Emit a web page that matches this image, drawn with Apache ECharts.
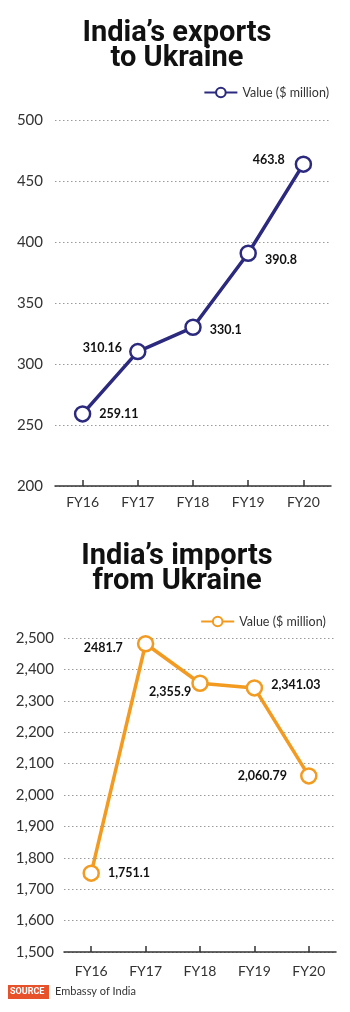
<!DOCTYPE html>
<html>
<head>
<meta charset="utf-8">
<script src="https://cdn.jsdelivr.net/npm/echarts@6/dist/echarts.min.js"></script>
<style>
html,body{margin:0;padding:0;background:#fff;}
#c{width:350px;height:1012px;}
</style>
</head>
<body>
<div id="c"></div>
<script>
const categories = ['FY16', 'FY17', 'FY18', 'FY19', 'FY20'];
const exportsValues = [259.11, 310.16, 330.1, 390.8, 463.8];
const exportsLabels = ['259.11', '310.16', '330.1', '390.8', '463.8'];
const importsValues = [1751.1, 2481.7, 2355.9, 2341.03, 2060.79];
const importsLabels = ['1,751.1', '2481.7', '2,355.9', '2,341.03', '2,060.79'];
const seriesName = 'Value ($ million)';

const NAVY = '#2c2a7e';
const ORANGE = '#f39b20';
const FONT = 'Lato';

const labelPos1 = [
  {position: 'right', distance: 8, offset: [0, 0]},
  {position: 'left', distance: 7, offset: [0, -4]},
  {position: 'right', distance: 8, offset: [0, 3]},
  {position: 'right', distance: 8, offset: [0, 7]},
  {position: 'left', distance: 10, offset: [0, -4]}
];
const labelPos2 = [
  {position: 'right', distance: 8, offset: [0, 0]},
  {position: 'left', distance: 14, offset: [0, 4]},
  {position: 'left', distance: 0, offset: [0, 9]},
  {position: 'right', distance: 8, offset: [0, -3]},
  {position: 'left', distance: 13, offset: [0, 0]}
];

function mkData(vals, labels, pos) {
  return vals.map((v, i) => ({
    value: v,
    label: {show: true, formatter: labels[i], position: pos[i].position, distance: pos[i].distance, offset: pos[i].offset}
  }));
}

const chart = echarts.init(document.getElementById('c'), null, {renderer: 'canvas'});

const yLabelStyle = {color: '#333', fontSize: 15, fontFamily: FONT};
const xAxisCommon = {
  type: 'category',
  data: categories,
  boundaryGap: true,
  axisLine: {show: true, lineStyle: {color: '#333', width: 1.5}},
  axisTick: {show: true, inside: true, length: 6, alignWithLabel: true, lineStyle: {color: '#333', width: 1.5}},
  axisLabel: {color: '#333', fontSize: 14, fontFamily: FONT}
};
const splitLine = {show: true, lineStyle: {type: [1.5, 2.5], color: '#9a9a9a', width: 1}};
const legendCommon = {itemWidth: 33, itemHeight: 12, itemGap: 4,
  textStyle: {fontSize: 12.5, color: '#333', fontFamily: FONT}, selectedMode: false};
const titleStyle = {fontFamily: 'Roboto', fontWeight: 'bold', fontSize: 29, lineHeight: 25, color: '#111'};

chart.setOption({
  animation: false,
  title: [
    {text: "India’s exports\nto Ukraine", left: 172, top: 16, textAlign: 'center', textStyle: titleStyle},
    {text: "India’s imports\nfrom Ukraine", left: 172, top: 539, textAlign: 'center', textStyle: titleStyle}
  ],
  legend: [
    Object.assign({data: [seriesName], right: 16, top: 81}, legendCommon),
    Object.assign({data: [seriesName + ' '], right: 16, top: 610}, legendCommon)
  ],
  grid: [
    {left: 55, width: 276, top: 120, height: 366},
    {left: 64, width: 272, top: 638, height: 314}
  ],
  xAxis: [
    Object.assign({gridIndex: 0}, xAxisCommon, {axisLabel: Object.assign({}, xAxisCommon.axisLabel, {margin: 9})}),
    Object.assign({gridIndex: 1}, xAxisCommon, {axisLabel: Object.assign({}, xAxisCommon.axisLabel, {margin: 12})})
  ],
  yAxis: [
    {gridIndex: 0, type: 'value', min: 200, max: 500, interval: 50,
     axisLine: {show: false}, axisTick: {show: false},
     axisLabel: Object.assign({margin: 12}, yLabelStyle),
     splitLine: splitLine},
    {gridIndex: 1, type: 'value', min: 1500, max: 2500, interval: 100,
     axisLine: {show: false}, axisTick: {show: false},
     axisLabel: Object.assign({margin: 10, formatter: v => v.toLocaleString('en-US')}, yLabelStyle),
     splitLine: splitLine}
  ],
  series: [
    {name: seriesName, type: 'line', xAxisIndex: 0, yAxisIndex: 0,
     data: mkData(exportsValues, exportsLabels, labelPos1),
     symbol: 'circle', symbolSize: 15,
     lineStyle: {color: NAVY, width: 3.5},
     itemStyle: {color: '#fff', borderColor: NAVY, borderWidth: 2.5},
     label: {color: '#111', fontWeight: 'bold', fontSize: 12.5, fontFamily: FONT},
     z: 3},
    {name: seriesName + ' ', type: 'line', xAxisIndex: 1, yAxisIndex: 1,
     data: mkData(importsValues, importsLabels, labelPos2),
     symbol: 'circle', symbolSize: 15,
     lineStyle: {color: ORANGE, width: 3.5},
     itemStyle: {color: '#fff', borderColor: ORANGE, borderWidth: 2.5},
     label: {color: '#111', fontWeight: 'bold', fontSize: 12.5, fontFamily: FONT},
     z: 3}
  ],
  graphic: [
    {type: 'rect', left: 8, top: 985, shape: {width: 41, height: 14}, style: {fill: '#e8522a'}},
    {type: 'text', left: 10, top: 987.5, style: {text: 'SOURCE', fill: '#fff', font: 'bold 9px Roboto'}},
    {type: 'text', left: 55, top: 986, style: {text: 'Embassy of India', fill: '#333', font: '11px Lato'}}
  ]
});
</script>
</body>
</html>
